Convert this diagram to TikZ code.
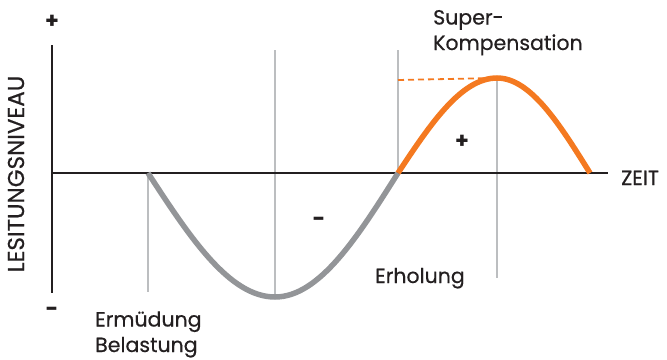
\documentclass[tikz,border=0pt]{standalone}
\usepackage{fontspec}
\setmainfont{Poppins}
\newfontfamily\labelfont[FakeBold=0.5]{Poppins}
\usepackage{tikz}
\usetikzlibrary{positioning}

\definecolor{ink}{HTML}{231F20}
\definecolor{fatigue}{HTML}{939598}
\definecolor{gain}{HTML}{F47920}
\definecolor{guide}{HTML}{BCBEC0}

\begin{document}
\begin{tikzpicture}[
  x=1pt, y=-1pt,
  axis/.style={draw=ink, line width=2pt},
  guideline/.style={draw=guide, line width=1.8pt},
  lowcurve/.style={draw=fatigue, line width=5.5pt},
  highcurve/.style={draw=gain, line width=5.5pt},
  label/.style={font=\labelfont\fontsize{20.5}{25.5}\selectfont, text=ink, inner sep=0pt, anchor=base west, align=left},
  sign/.style={font=\fontsize{22}{24}\selectfont\bfseries, text=ink, inner sep=0pt}
]
\useasboundingbox (0,0) rectangle (667,359);

% axes
\coordinate (top) at (52,45);
\coordinate (bottom) at (52,293);
\coordinate (origin) at (52,173);
\coordinate (end) at (608,173);

% points of the curve
\coordinate (load) at (148,173);
\coordinate (low) at (275,297);
\coordinate (rest) at (398,173);
\coordinate (peak) at (497,78);
\coordinate (back) at (590,173);

% guide lines
\draw[guideline] (load) -- (148,292);
\draw[guideline] (275,50) -- (low);
\draw[guideline] (398,50) -- (rest);
\draw[guideline] (peak) -- (497,278);

\draw[axis] (top) -- (bottom);
\draw[axis] (origin) -- (end);

\draw[lowcurve] (load) sin (low) cos (rest);
\draw[highcurve] (rest) sin (peak) cos (back);
\draw[gain, line width=1.8pt, dash pattern=on 6pt off 4pt] (398,80) -- (peak);

% texts
\node[sign] (plus) at (52,22) {+};
\node[sign] (minus) at (52,312) {-};
\node[sign] (gainsign) at (462,142) {+};
\node[sign] (losssign) at (319,222) {-};
\node[font=\labelfont\fontsize{23}{25}\selectfont, text=ink, rotate=90, inner sep=0pt] (level) at (16,174) {LESITUNGSNIVEAU};
\node[label] (time) at (621,185) {ZEIT};
\node[label] (super) at (433,50) {Super-\\Kompensation};
\node[label] (recovery) at (375,283) {Erholung};
\node[label] (fatiguetext) at (95,352) {Ermüdung\\Belastung};
\end{tikzpicture}
\end{document}
